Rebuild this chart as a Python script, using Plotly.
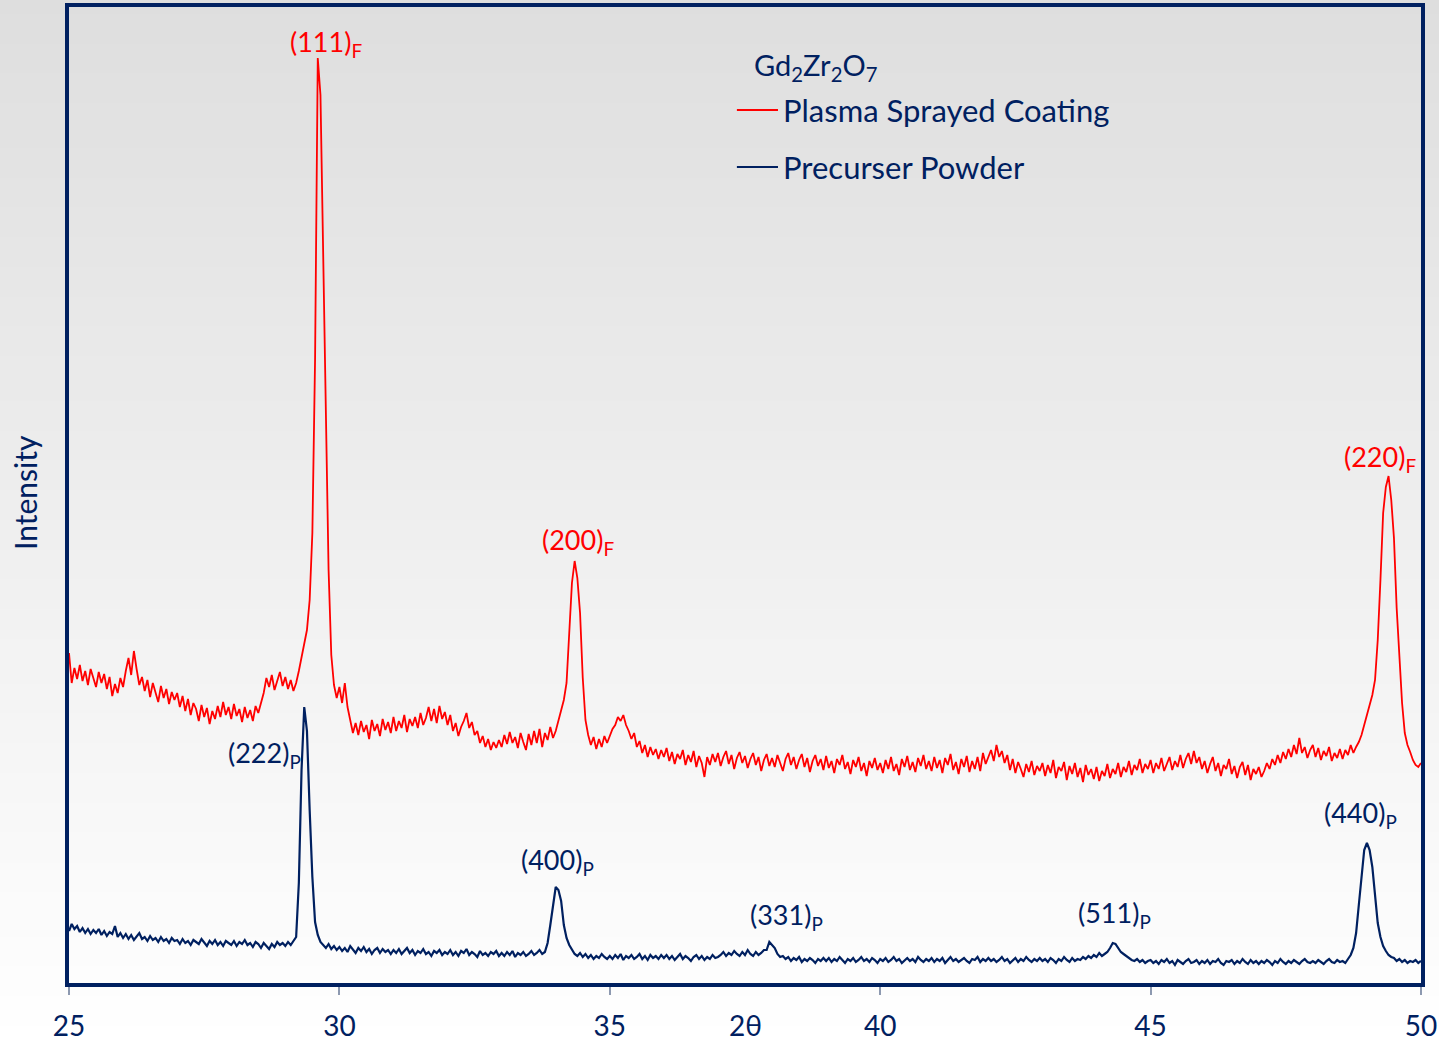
import plotly.graph_objects as go

# ---------------- data ----------------
scan_start = 25.0          # degrees 2-theta
scan_step = 0.05           # degrees per point

# Plasma sprayed coating (offset curve, arbitrary intensity units)
coating_intensity = [
    330, 300, 315, 304, 318, 302, 312, 298, 314, 305, 296, 311, 300, 309, 294, 306, 287, 299, 290, 305,
    296, 312, 325, 308, 332, 314, 298, 306, 292, 303, 286, 300, 290, 281, 297, 285, 294, 279, 291, 283,
    290, 276, 287, 272, 284, 268, 280, 274, 262, 278, 266, 275, 259, 272, 264, 277, 266, 281, 268, 276,
    264, 279, 267, 274, 261, 276, 265, 273, 262, 277, 270, 281, 290, 305, 296, 308, 293, 302, 311, 297,
    306, 294, 303, 292, 300, 312, 325, 338, 353, 383, 450, 623, 925, 888, 728, 573, 413, 328, 298, 285,
    296, 280, 300, 276, 262, 250, 260, 248, 262, 251, 258, 244, 263, 252, 259, 247, 264, 253, 261, 250,
    266, 252, 262, 255, 268, 251, 264, 257, 266, 255, 270, 258, 265, 276, 262, 274, 260, 277, 264, 271,
    258, 268, 252, 260, 247, 256, 262, 270, 255, 261, 248, 252, 240, 247, 236, 244, 233, 241, 235, 243,
    236, 248, 239, 251, 240, 246, 235, 250, 241, 233, 249, 238, 252, 240, 254, 236, 250, 243, 256, 245,
    252, 262, 271, 283, 300, 345, 400, 422, 405, 370, 305, 263, 248, 238, 246, 234, 244, 236, 247, 240,
    248, 254, 258, 266, 262, 268, 258, 252, 244, 250, 236, 242, 230, 238, 226, 236, 228, 234, 224, 233,
    226, 235, 222, 231, 219, 229, 224, 233, 218, 228, 221, 232, 216, 227, 220, 206, 226, 218, 229, 221,
    230, 217, 226, 232, 219, 228, 214, 225, 231, 220, 227, 215, 224, 230, 218, 226, 212, 223, 229, 217,
    225, 216, 228, 219, 212, 224, 230, 218, 226, 214, 223, 229, 216, 225, 211, 222, 228, 217, 224, 213,
    227, 215, 222, 210, 224, 218, 228, 214, 221, 209, 223, 216, 226, 212, 220, 207, 222, 215, 225, 213,
    220, 210, 223, 214, 226, 212, 219, 208, 224, 216, 227, 213, 221, 211, 225, 217, 228, 214, 222, 212,
    226, 215, 223, 210, 225, 218, 229, 213, 221, 209, 224, 216, 227, 211, 222, 214, 226, 212, 230, 219,
    227, 233, 222, 238, 226, 232, 220, 228, 213, 224, 210, 221, 214, 206, 219, 211, 222, 208, 217, 212,
    220, 207, 218, 210, 223, 205, 216, 212, 221, 203, 217, 209, 220, 206, 215, 201, 218, 208, 214, 204,
    216, 202, 212, 207, 219, 205, 214, 209, 220, 206, 216, 211, 222, 208, 218, 213, 224, 210, 219, 214,
    223, 210, 220, 214, 225, 212, 219, 226, 213, 222, 216, 228, 215, 224, 230, 219, 232, 220, 226, 214,
    222, 210, 219, 226, 212, 220, 207, 218, 214, 224, 209, 217, 205, 216, 221, 208, 218, 203, 214, 209,
    216, 206, 212, 220, 214, 224, 218, 228, 220, 231, 224, 234, 226, 238, 229, 245, 230, 236, 225, 233,
    238, 226, 235, 223, 232, 227, 236, 222, 230, 225, 234, 224, 233, 228, 238, 230, 236, 241, 248, 258,
    266, 276, 288, 303, 343, 403, 470, 496, 507, 483, 445, 375, 320, 280, 250, 238, 231, 223, 218, 216,
    220,
]

# Precursor powder (lower curve)
powder_intensity = [
    52, 59, 54, 57, 51, 55, 50, 54, 49, 53, 50, 54, 48, 52, 47, 51, 49, 57, 46, 50,
    45, 49, 44, 48, 43, 47, 50, 44, 46, 42, 47, 43, 45, 41, 46, 42, 44, 40, 45, 42,
    43, 39, 44, 40, 42, 38, 43, 41, 39, 44, 40, 37, 42, 39, 43, 38, 41, 37, 42, 40,
    38, 42, 37, 41, 39, 43, 38, 40, 36, 41, 39, 35, 40, 37, 34, 39, 36, 41, 38, 40,
    37, 41, 38, 42, 46, 100, 213, 276, 252, 173, 106, 61, 48, 41, 38, 35, 39, 34, 37, 33,
    36, 32, 35, 31, 37, 33, 30, 35, 32, 36, 31, 34, 29, 33, 35, 30, 34, 31, 33, 29,
    33, 30, 34, 29, 32, 35, 30, 33, 28, 32, 30, 34, 29, 31, 27, 32, 30, 33, 28, 31,
    29, 33, 28, 31, 27, 32, 30, 34, 28, 31, 29, 26, 32, 28, 30, 27, 31, 29, 32, 27,
    30, 27, 31, 28, 32, 26, 30, 28, 31, 27, 29, 32, 28, 30, 33, 29, 31, 40, 58, 80,
    96, 93, 82, 58, 45, 38, 33, 29, 27, 30, 26, 29, 25, 28, 24, 27, 25, 29, 26, 24,
    27, 24, 28, 25, 29, 23, 27, 25, 28, 24, 26, 29, 24, 27, 23, 28, 25, 27, 24, 28,
    25, 28, 24, 27, 23, 26, 29, 24, 27, 25, 22, 26, 28, 24, 27, 23, 26, 24, 28, 25,
    26, 28, 31, 27, 30, 28, 32, 29, 27, 31, 28, 33, 29, 27, 31, 28, 30, 33, 33, 41,
    38, 35, 29, 26, 27, 24, 26, 22, 25, 23, 26, 21, 24, 22, 25, 23, 20, 24, 22, 25,
    22, 25, 21, 24, 22, 26, 23, 20, 24, 22, 25, 21, 23, 26, 22, 24, 21, 25, 23, 20,
    24, 22, 25, 21, 23, 26, 22, 24, 20, 23, 25, 22, 24, 21, 26, 23, 21, 24, 22, 25,
    21, 24, 22, 25, 20, 23, 26, 22, 24, 21, 23, 25, 22, 20, 24, 23, 26, 21, 24, 22,
    25, 22, 24, 21, 23, 26, 22, 24, 20, 23, 25, 21, 24, 22, 26, 23, 21, 24, 22, 25,
    22, 24, 21, 25, 23, 20, 24, 22, 26, 23, 21, 25, 22, 24, 23, 26, 24, 27, 25, 28,
    26, 30, 27, 29, 31, 35, 40, 39, 35, 31, 29, 27, 25, 23, 22, 24, 21, 23, 20, 22,
    23, 20, 22, 19, 23, 21, 24, 20, 22, 18, 23, 21, 19, 22, 24, 20, 21, 23, 19, 22,
    20, 23, 19, 22, 21, 24, 20, 18, 22, 21, 23, 19, 22, 20, 24, 21, 19, 23, 20, 22,
    19, 22, 20, 23, 21, 18, 22, 20, 24, 21, 19, 22, 20, 23, 21, 19, 22, 24, 21, 20,
    22, 20, 23, 21, 19, 22, 24, 21, 20, 23, 21, 22, 20, 24, 28, 35, 50, 78, 108, 133,
    140, 133, 116, 91, 60, 46, 37, 32, 28, 26, 25, 22, 24, 21, 23, 20, 22, 21, 23, 20,
    22,
]

two_theta = [round(scan_start + scan_step * i, 2) for i in range(len(coating_intensity))]

x_tick_values = [25, 30, 35, 40, 45, 50]
series_names = ["Plasma Sprayed Coating", "Precurser Powder"]
compound_label = "Gd<sub>2</sub>Zr<sub>2</sub>O<sub>7</sub>"
coating_peak_labels = ["(111)<sub>F</sub>", "(200)<sub>F</sub>", "(220)<sub>F</sub>"]
powder_peak_labels = ["(222)<sub>P</sub>", "(400)<sub>P</sub>", "(331)<sub>P</sub>",
                      "(511)<sub>P</sub>", "(440)<sub>P</sub>"]

# ---------------- styling ----------------
NAVY = "#002060"
RED = "#ff0000"
FONT = "Lato"
W, H = 1439, 1042
ML, MR, MT, MB = 69, 18, 7, 59
PW, PH = W - ML - MR, H - MT - MB
Y_MAX = 976

fig = go.Figure()
fig.add_trace(go.Scatter(x=two_theta, y=powder_intensity, mode="lines", name=series_names[1],
                         line=dict(color=NAVY, width=2.2), showlegend=False))
fig.add_trace(go.Scatter(x=two_theta, y=coating_intensity, mode="lines", name=series_names[0],
                         line=dict(color=RED, width=1.8), showlegend=False))

# gradient background (grey at top -> white at bottom)
shapes = []
n_bands = 70
y_lo = -MB / PH
y_hi = 1 + MT / PH
x_lo = -ML / PW
x_hi = 1 + MR / PW
for i in range(n_bands):
    f0 = i / n_bands
    f1 = (i + 1) / n_bands
    g = int(round(222 + (255 - 222) * (f0 + f1) / 2))
    shapes.append(dict(type="rect", xref="paper", yref="paper",
                       x0=x_lo, x1=x_hi,
                       y0=y_hi - (y_hi - y_lo) * f1, y1=y_hi - (y_hi - y_lo) * f0 + 0.001,
                       fillcolor=f"rgb({g},{g},{g})", line=dict(width=0), layer="below"))

# legend drawn as line samples + text
legend_x0, legend_x1, legend_text_x = 37.35, 38.11, 38.16
legend_rows_y = [873, 816]
legend_colors = [RED, NAVY]
for yy, col in zip(legend_rows_y, legend_colors):
    shapes.append(dict(type="line", xref="x", yref="y", x0=legend_x0, x1=legend_x1,
                       y0=yy, y1=yy, line=dict(color=col, width=2)))

annotations = []
annotations.append(dict(x=37.63, y=917, xref="x", yref="y", text=compound_label,
                        showarrow=False, xanchor="left", yanchor="middle",
                        font=dict(family=FONT, size=29, color=NAVY)))
for name, yy in zip(series_names, legend_rows_y):
    annotations.append(dict(x=legend_text_x, y=yy, xref="x", yref="y", text=name,
                            showarrow=False, xanchor="left", yanchor="middle",
                            font=dict(family=FONT, size=31, color=NAVY)))

coating_label_pos = [(29.76, 940), (34.41, 442), (49.24, 525)]
powder_label_pos = [(28.61, 229), (34.03, 122), (38.26, 67), (44.34, 69), (48.89, 169)]
for txt, (xx, yy) in zip(coating_peak_labels, coating_label_pos):
    annotations.append(dict(x=xx, y=yy, xref="x", yref="y", text=txt, showarrow=False,
                            xanchor="center", yanchor="middle",
                            font=dict(family=FONT, size=27, color=RED)))
for txt, (xx, yy) in zip(powder_peak_labels, powder_label_pos):
    annotations.append(dict(x=xx, y=yy, xref="x", yref="y", text=txt, showarrow=False,
                            xanchor="center", yanchor="middle",
                            font=dict(family=FONT, size=27, color=NAVY)))

# axis titles
annotations.append(dict(x=37.5, y=(983 - 1025) / PH, xref="x", yref="paper", text="2θ",
                        showarrow=False, xanchor="center", yanchor="middle", borderpad=0,
                        font=dict(family=FONT, size=28, color=NAVY)))
annotations.append(dict(x=(25 - ML) / PW, y=(983 - 493) / PH, xref="paper", yref="paper",
                        text="Intensity", textangle=-90, showarrow=False,
                        xanchor="center", yanchor="middle",
                        font=dict(family=FONT, size=30, color=NAVY)))

fig.update_layout(
    width=W, height=H, autosize=False,
    margin=dict(l=ML, r=MR, t=MT, b=MB),
    paper_bgcolor="white", plot_bgcolor="rgba(0,0,0,0)",
    shapes=shapes, annotations=annotations,
    font=dict(family=FONT, color=NAVY),
    xaxis=dict(range=[25, 50], tickvals=x_tick_values, ticks="outside", ticklen=8,
               tickwidth=1.5, tickcolor="#8d99b0", showline=True, mirror=True,
               linecolor=NAVY, linewidth=3.5, showgrid=False, zeroline=False,
               automargin=False,
               tickfont=dict(family=FONT, size=28, color=NAVY), ticklabelstandoff=8),
    yaxis=dict(range=[0, Y_MAX], showticklabels=False, ticks="", showline=True, mirror=True,
               linecolor=NAVY, linewidth=3.5, showgrid=False, zeroline=False,
               automargin=False),
)

fig.write_html("out.html")
